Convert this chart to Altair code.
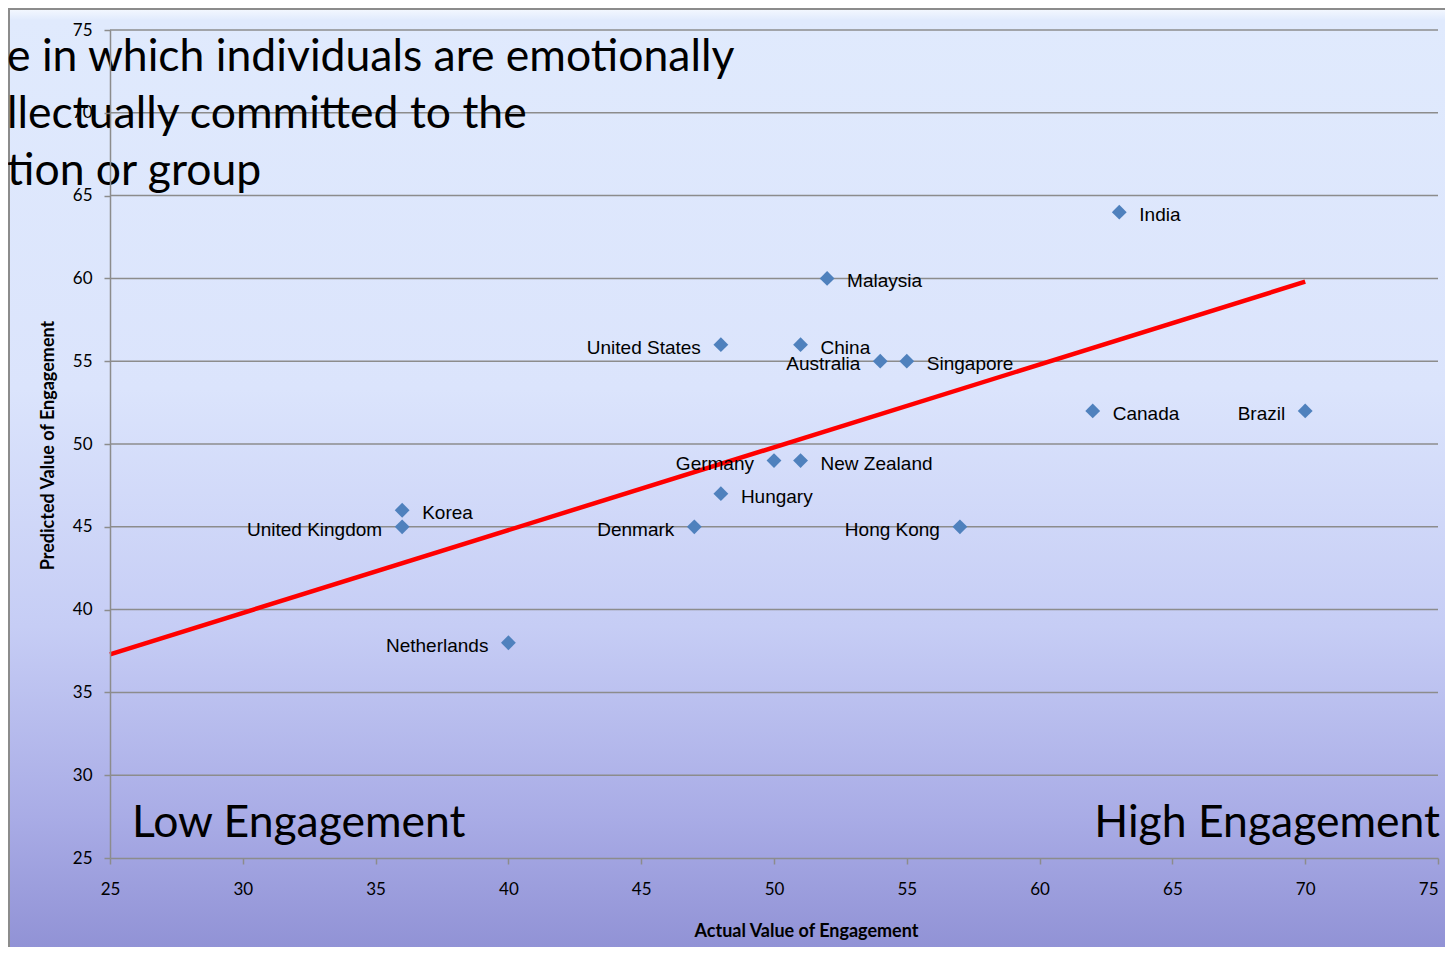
import altair as alt
import pandas as pd

# ---- data ----
countries = ["India", "Malaysia", "United States", "China", "Australia", "Singapore",
             "Canada", "Brazil", "Germany", "New Zealand", "Hungary", "Korea",
             "United Kingdom", "Denmark", "Hong Kong", "Netherlands"]
actual = [63, 52, 48, 51, 54, 55, 62, 70, 50, 51, 48, 36, 36, 47, 57, 40]
predicted = [64, 60, 56, 56, 55, 55, 52, 52, 49, 49, 47, 46, 45, 45, 45, 38]
label_side = ["right", "right", "left", "right", "left", "right",
              "right", "left", "left", "right", "right", "right",
              "left", "left", "left", "left"]

trend_x = [25, 70]
trend_y = [37.3, 59.8]

tick_values = [25, 30, 35, 40, 45, 50, 55, 60, 65, 70, 75]
grid_values = [30, 35, 40, 45, 50, 55, 60, 65, 70, 75]

overlay_lines = ["e in which individuals are emotionally",
                 "llectually committed to the",
                 "tion or group"]
corner_texts = ["Low Engagement", "High Engagement"]

W, H = 1328, 828

pts = pd.DataFrame({"country": countries, "actual": actual,
                    "predicted": predicted, "side": label_side})
trend = pd.DataFrame({"actual": trend_x, "predicted": trend_y})
grid = pd.DataFrame({"g": grid_values})
one = pd.DataFrame({"a": [0]})

xs = alt.Scale(domain=[25, 75], nice=False, zero=False)
ys = alt.Scale(domain=[25, 75], nice=False, zero=False)

xaxis = alt.Axis(values=tick_values, grid=False, domainColor="#8c8c8c", domainWidth=1.5,
                 tickColor="#8c8c8c", tickWidth=1.5, tickSize=6, labelPadding=17,
                 labelFlush=False, labelOverlap=False, labelBound=False,
                 labelAlign=alt.ExprRef(expr="datum.value == 75 ? 'right' : 'center'"),
                 labelFont="Lato", labelFontSize=17, labelColor="#000000",
                 title="Actual Value of Engagement", titleFont="Lato", titleFontSize=18,
                 titleFontWeight="bold", titleColor="#000000", titleX=696, titleY=78,
                 titleBaseline="alphabetic", zindex=1)
yaxis = alt.Axis(values=tick_values, grid=False, domainColor="#8c8c8c", domainWidth=1.5,
                 tickColor="#8c8c8c", tickWidth=1.5, tickSize=6, labelPadding=12,
                 labelFlush=False, labelOverlap=False,
                 labelFont="Lato", labelFontSize=17, labelColor="#000000",
                 title="Predicted Value of Engagement", titleFont="Lato", titleFontSize=18,
                 titleFontWeight="bold", titleColor="#000000", titleX=-57, titleY=415,
                 titleBaseline="alphabetic", titleAngle=270, titleAlign="center", zindex=1)

bg_grad = alt.Gradient(gradient="linear", x1=0, x2=0, y1=0, y2=1,
                       stops=[alt.GradientStop(color="#f4f8ff", offset=0),
                              alt.GradientStop(color="#e0eafd", offset=0.012),
                              alt.GradientStop(color="#dbe4fc", offset=0.4),
                              alt.GradientStop(color="#c6cdf5", offset=0.65),
                              alt.GradientStop(color="#a9ace6", offset=0.85),
                              alt.GradientStop(color="#8f90d4", offset=1)])

background = alt.Chart(one).mark_rect(fill=bg_grad, stroke="#8c8c8c", strokeWidth=2).encode(
    x=alt.value(-101), x2=alt.value(W + 40), y=alt.value(-21), y2=alt.value(H + 101))

gridlines = alt.Chart(grid).mark_rule(color="#8c8c8c", strokeWidth=1.5).encode(
    y=alt.Y("g:Q", scale=ys, axis=yaxis), x=alt.value(0), x2=alt.value(W))

trend_line = alt.Chart(trend).mark_line(color="#ff0000", strokeWidth=4.5).encode(
    x=alt.X("actual:Q", scale=xs, axis=xaxis), y=alt.Y("predicted:Q", scale=ys))

points = alt.Chart(pts).mark_point(shape="diamond", filled=True, size=220,
                                   color="#4f81bd", opacity=1).encode(
    x=alt.X("actual:Q", scale=xs), y=alt.Y("predicted:Q", scale=ys))

lab_r = alt.Chart(pts).transform_filter(alt.datum.side == "right").mark_text(
    align="left", baseline="middle", dx=20, dy=3, font="Liberation Sans", fontSize=19,
    color="#000000").encode(x=alt.X("actual:Q", scale=xs), y=alt.Y("predicted:Q", scale=ys),
                            text="country:N")
lab_l = alt.Chart(pts).transform_filter(alt.datum.side == "left").mark_text(
    align="right", baseline="middle", dx=-20, dy=3, font="Liberation Sans", fontSize=19,
    color="#000000").encode(x=alt.X("actual:Q", scale=xs), y=alt.Y("predicted:Q", scale=ys),
                            text="country:N")

def big_text(s, x, y, align="left"):
    return alt.Chart(pd.DataFrame({"t": [s]})).mark_text(
        align=align, baseline="alphabetic", font="Lato", fontSize=44.5,
        color="#000000").encode(x=alt.value(x), y=alt.value(y), text="t:N")

ov1 = big_text(overlay_lines[0], -103, 41)
ov2 = big_text(overlay_lines[1], -103, 98)
ov3 = big_text(overlay_lines[2], -103, 155)
low = big_text(corner_texts[0], 22, 807)
high = big_text(corner_texts[1], 1330, 807, align="right")

chart = alt.layer(background, gridlines, trend_line, points, lab_r, lab_l,
                  ov1, ov2, ov3, low, high).properties(
    width=W, height=H,
    autosize=alt.AutoSizeParams(type="none"),
    padding={"left": 102, "top": 22, "right": 7, "bottom": 89},
).configure_view(stroke=None)

chart.save("out.html", embed_options={"renderer": "svg", "actions": False})
